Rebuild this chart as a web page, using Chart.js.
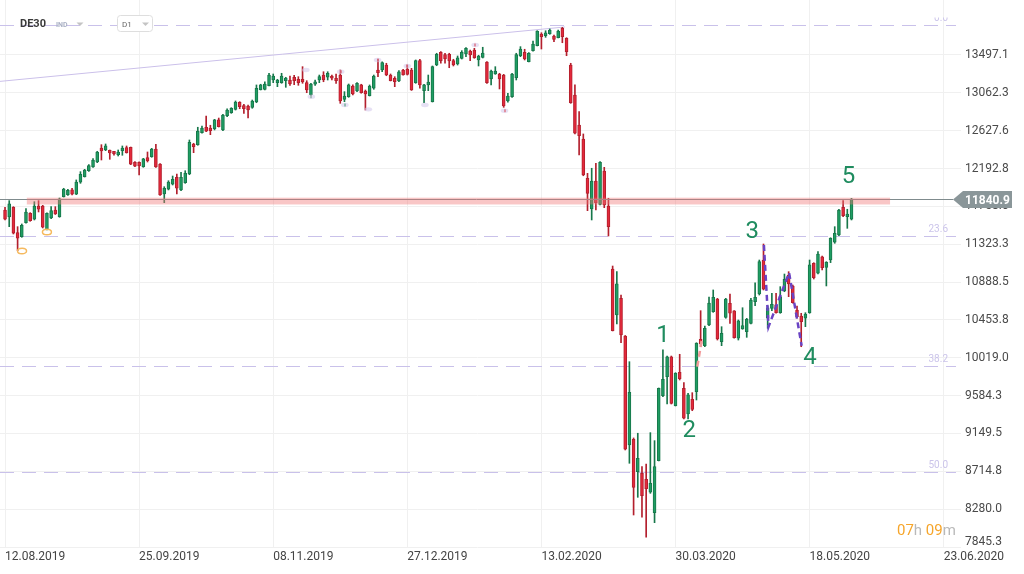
<!DOCTYPE html>
<html>
<head>
<meta charset="utf-8">
<script src="https://cdn.jsdelivr.net/npm/chart.js@4.4.0/dist/chart.umd.min.js"></script>
<style>
  html, body { margin: 0; padding: 0; background: #fff; }
  #wrap { position: relative; width: 1024px; height: 574px; }
</style>
</head>
<body>
<div id="wrap"><canvas id="chart"></canvas></div>
<script>
// x axis: one tick every 32 trading days
const dateLabels = ['12.08.2019', '25.09.2019', '08.11.2019', '27.12.2019', '13.02.2020', '30.03.2020', '18.05.2020', '23.06.2020'];
const yTickLabels = ['7845.3', '8280.0', '8714.8', '9149.5', '9584.3', '10019.0', '10453.8', '10888.5', '11323.3', '11758.0', '12192.8', '12627.6', '13062.3', '13497.1'];

// daily candles DE30
const opens = [11717,11636,11748,11456,11410,11571,11679,11610,11763,11763,11495,11625,11717,11640,11869,11892,11947,11897,12035,12099,
  12168,12211,12268,12429,12406,12402,12391,12352,12398,12433,12437,12265,12265,12214,12318,12329,12417,12245,11900,11955,
  12012,12092,11947,12030,12130,12475,12467,12605,12667,12659,12651,12751,12636,12800,12834,12873,12954,12915,12911,12896,
  12957,13099,13103,13145,13210,13179,13179,13202,13210,13241,13218,13218,13179,13041,13161,13210,13267,13241,13256,13230,
  13267,12988,13018,13141,13084,13153,13084,13030,13115,13325,13325,13382,13267,13230,13198,13325,13336,13325,13179,13432,
  13087,13153,12961,13382,13528,13501,13505,13432,13394,13459,13509,13543,13555,13440,13470,13417,13222,13279,13279,13267,
  12969,13018,13236,13489,13528,13420,13547,13604,13738,13719,13742,13715,13696,13804,13689,13382,13038,12693,12532,12081,
  11728,12050,11782,12165,11763,11039,10511,10702,10269,9017,9083,8711,8692,8623,8474,8239,8837,9584,9802,10031,
  9469,9852,9669,9373,9542,9630,10231,10158,10396,10548,10694,10204,10484,10645,10557,10243,10350,10319,10415,10663,
  10752,11142,10473,10587,10626,10537,10786,10970,10844,10568,10499,10473,10537,11104,10990,11180,11058,11142,11346,11430,
  11748,11640,11610];
const highs = [11748,11824,11755,11525,11556,11732,11686,11812,11824,11770,11685,11755,11755,11854,11966,11955,11966,12062,12157,12184,
  12237,12306,12391,12467,12475,12406,12391,12406,12452,12452,12440,12272,12270,12310,12383,12425,12471,12250,11984,12053,
  12107,12130,12150,12168,12521,12483,12667,12682,12796,12690,12758,12773,12816,12880,12892,12969,12961,12931,12923,12980,
  13153,13161,13190,13287,13279,13218,13287,13241,13256,13264,13248,13363,13202,13172,13210,13267,13305,13305,13267,13279,
  13325,13076,13164,13153,13179,13161,13095,13153,13267,13448,13420,13402,13279,13248,13317,13333,13382,13344,13440,13448,
  13161,13267,13371,13517,13535,13517,13517,13448,13486,13547,13581,13555,13574,13494,13586,13422,13325,13363,13287,13275,
  13057,13287,13517,13593,13563,13524,13658,13776,13753,13776,13796,13727,13784,13815,13696,13402,13153,12846,12590,12138,
  12196,12253,12272,12207,11851,11073,11008,10740,10275,9974,9098,9152,8768,8799,9159,9067,9672,10109,10039,10039,
  9848,10059,9733,9611,9618,10192,10560,10384,10717,10798,10702,10376,10702,10752,10562,10453,10594,10472,10702,10881,
  11142,11326,10614,10760,10760,10836,10981,11008,10855,10614,10530,10537,11142,11111,11238,11188,11123,11398,11525,11725,
  11824,11725,11850];
const lows = [11602,11525,11441,11249,11403,11564,11587,11602,11694,11510,11487,11617,11665,11633,11865,11885,11889,11893,12023,12095,
  12161,12207,12260,12291,12398,12299,12345,12337,12345,12370,12237,12215,12119,12207,12268,12322,12205,11885,11801,11947,
  12004,11900,11938,12023,12122,12375,12460,12598,12617,12582,12636,12670,12628,12788,12827,12865,12880,12827,12773,12885,
  12949,13095,13095,13141,13179,13133,13172,13126,13149,13156,13149,13172,13064,13034,13149,13179,13190,13210,13210,13172,
  12942,12961,13011,13038,13076,13058,12865,13026,13103,13248,13305,13259,13199,13133,13190,13264,13267,13090,13172,13115,
  12949,13087,12957,13374,13402,13402,13351,13371,13382,13451,13478,13432,13459,13371,13463,13172,13153,13275,13107,12896,
  12954,13011,13210,13478,13440,13417,13540,13601,13566,13700,13735,13650,13692,13638,13489,12942,12590,12349,12110,11709,
  11602,11717,11774,11743,11418,10327,10407,10192,8960,8807,8213,8416,8187,7957,8462,8125,8834,9572,9488,9488,
  9465,9764,9316,9316,9411,9534,10146,10146,10389,10541,10223,10158,10473,10415,10243,10223,10346,10254,10407,10617,
  10740,10798,10358,10560,10530,10530,10778,10721,10645,10473,10146,10376,10530,10924,10981,11027,10844,11112,11334,11422,
  11640,11506,11602];
const closes = [11610,11786,11449,11392,11541,11694,11594,11763,11725,11518,11679,11709,11671,11846,11958,11943,11897,12038,12127,12176,
  12226,12291,12383,12394,12455,12371,12360,12383,12429,12375,12242,12219,12222,12303,12283,12417,12211,11889,11966,12038,
  12069,11966,12092,12138,12494,12444,12624,12659,12621,12628,12751,12674,12808,12865,12885,12957,12903,12880,12865,12969,
  13115,13153,13164,13267,13256,13210,13256,13233,13164,13202,13179,13187,13095,13164,13190,13248,13210,13287,13230,13202,
  12969,13026,13153,13049,13172,13064,13049,13141,13256,13294,13409,13267,13202,13190,13305,13267,13275,13095,13432,13153,
  13153,13187,13363,13505,13432,13451,13428,13382,13466,13528,13574,13497,13466,13486,13520,13179,13313,13313,13222,12911,
  13026,13279,13501,13566,13451,13517,13623,13773,13707,13753,13784,13677,13773,13707,13535,12949,12598,12570,12119,11908,
  12050,11797,12265,11774,11525,10330,10867,10281,8968,9623,8531,8864,8435,8515,8577,8768,9669,9772,10031,9496,
  9841,9779,9324,9592,9427,10185,10177,10358,10648,10714,10235,10300,10694,10530,10250,10442,10388,10461,10683,10714,
  11123,10806,10594,10633,10537,10721,10920,10867,10652,10491,10434,10522,11088,10939,11211,11054,11116,11391,11449,11717,
  11651,11671,11840.9];

const lastPrice = 11840.9;
const fibLevels = [13842, 11418, 9919, 8707];
const fibNames = ['0.0', '23.6', '38.2', '50.0'];
const zoneBars = [5.2, 211.2];
const zonePrices = [11858, 11780];
const trendBars = [-1.2, 133.6];
const trendPrices = [13194, 13819];
const waveNames = ['1', '2', '3', '4', '5'];
const waveBars = [157.0, 163.3, 178.3, 192.1, 201.3];
const wavePrices = [10300, 9209, 11493, 10042, 12130];
const wavePathBars = [181.1, 182.2, 187.1, 190.1];
const wavePathPrices = [11315, 10376, 10996, 10158];
const pinkPathBars = [165.2, 166.3];
const pinkPathPrices = [9917, 10232];
const markerBars = [73.1, 71.8, 80.1, 81.1, 86.7, 88.9, 96, 100.2, 112.2, 119.2];
const markerPrices = [13018, 13325, 13305, 12923, 12873, 13440, 13371, 12923, 13612, 12857];
const ringBars = [4.06, 10.0];
const ringPrices = [11246, 11464];

const UP = '#1f9d63', UP_EDGE = '#17774a';
const DOWN = '#e3293b', DOWN_EDGE = '#b31f2d';
const markerTickColors = ['#6f9c86', '', '#d9434f', '#3c9a6c', '', '#d9434f', '#d9434f', '', '#d9434f', '#d9434f'];
const isUp = opens.map((o, i) => closes[i] >= o);

const bodies = opens.map((o, i) => ({ x: i, y: [o, closes[i]] }));
const wicks = lows.map((l, i) => ({ x: i, y: [l, highs[i]] }));

const overlay = {
    id: 'overlay',
    beforeDatasetsDraw(chart) {
        const { ctx, chartArea: a, scales: { x, y } } = chart;
        ctx.save();
        // fibonacci levels
        ctx.strokeStyle = '#c9c1ea';
        ctx.lineWidth = 1;
        ctx.setLineDash([14, 8]);
        fibLevels.forEach(v => {
            const py = Math.round(y.getPixelForValue(v)) + 0.5;
            ctx.beginPath();
            ctx.moveTo(a.left, py);
            ctx.lineTo(a.right + 1, py);
            ctx.stroke();
        });
        ctx.setLineDash([]);
        // trend line
        ctx.strokeStyle = '#cbc0ea';
        ctx.beginPath();
        ctx.moveTo(x.getPixelForValue(trendBars[0]), y.getPixelForValue(trendPrices[0]));
        ctx.lineTo(x.getPixelForValue(trendBars[1]), y.getPixelForValue(trendPrices[1]));
        ctx.stroke();
        ctx.restore();
    },
    afterDatasetsDraw(chart) {
        const { ctx, chartArea: a, scales: { x, y } } = chart;
        ctx.save();

        // last price line and zone
        const py = Math.round(y.getPixelForValue(lastPrice)) + 0.5;
        ctx.strokeStyle = '#7f8b8d';
        ctx.lineWidth = 1;
        ctx.beginPath();
        ctx.moveTo(a.left, py);
        ctx.lineTo(a.right - 2, py);
        ctx.stroke();
        const zx0 = x.getPixelForValue(zoneBars[0]), zx1 = x.getPixelForValue(zoneBars[1]);
        const zy0 = y.getPixelForValue(zonePrices[0]), zy1 = y.getPixelForValue(zonePrices[1]);
        ctx.fillStyle = 'rgba(240, 120, 120, 0.42)';
        ctx.fillRect(zx0, zy0, zx1 - zx0, zy1 - zy0);

        // elliott wave path
        ctx.strokeStyle = '#6a43c4';
        ctx.lineWidth = 2.5;
        ctx.setLineDash([6, 4]);
        ctx.beginPath();
        wavePathBars.forEach((b, k) => {
            const px = x.getPixelForValue(b), pv = y.getPixelForValue(wavePathPrices[k]);
            if (k === 0) ctx.moveTo(px, pv); else ctx.lineTo(px, pv);
        });
        ctx.stroke();
        ctx.strokeStyle = '#f19a9a';
        ctx.beginPath();
        ctx.moveTo(x.getPixelForValue(pinkPathBars[0]), y.getPixelForValue(pinkPathPrices[0]));
        ctx.lineTo(x.getPixelForValue(pinkPathBars[1]), y.getPixelForValue(pinkPathPrices[1]));
        ctx.stroke();
        ctx.setLineDash([]);

        // event markers
        markerBars.forEach((b, k) => {
            const mx = x.getPixelForValue(b), my = y.getPixelForValue(markerPrices[k]);
            ctx.fillStyle = 'rgba(214, 204, 236, 0.6)';
            ctx.beginPath();
            ctx.ellipse(mx, my, 3.8, 2.2, 0, 0, Math.PI * 2);
            ctx.fill();
            if (markerTickColors[k]) {
                ctx.fillStyle = markerTickColors[k];
                ctx.fillRect(Math.round(mx) - 0.5, my - 1.5, 1, 3);
            }
        });
        ctx.strokeStyle = '#f5b95e';
        ctx.lineWidth = 1.5;
        ringBars.forEach((b, k) => {
            ctx.beginPath();
            ctx.ellipse(x.getPixelForValue(b), y.getPixelForValue(ringPrices[k]), 4.5, 2.8, 0, 0, Math.PI * 2);
            ctx.stroke();
        });

        // wave numbers
        ctx.fillStyle = '#1f8c5f';
        ctx.font = '24px Roboto';
        ctx.textAlign = 'center';
        ctx.textBaseline = 'alphabetic';
        waveNames.forEach((t, k) => {
            ctx.fillText(t, x.getPixelForValue(waveBars[k]), y.getPixelForValue(wavePrices[k]) + 8.5);
        });

        // fib labels
        ctx.font = '10px Roboto';
        ctx.fillStyle = '#cbc4ea';
        ctx.textAlign = 'right';
        ctx.save();
        ctx.beginPath();
        ctx.rect(0, 17.5, chart.width, chart.height);
        ctx.clip();
        fibLevels.forEach((v, k) => {
            ctx.fillText(fibNames[k], a.right - 7, y.getPixelForValue(v) - 4);
        });
        ctx.restore();

        // price label
        const lx = a.right - 2;
        ctx.fillStyle = '#8a9699';
        ctx.beginPath();
        ctx.moveTo(lx, py);
        ctx.lineTo(lx + 10, py - 8.5);
        ctx.lineTo(lx + 59, py - 8.5);
        ctx.lineTo(lx + 59, py + 8.5);
        ctx.lineTo(lx + 10, py + 8.5);
        ctx.closePath();
        ctx.fill();
        ctx.fillStyle = '#ffffff';
        ctx.font = 'bold 12px Roboto';
        ctx.textAlign = 'left';
        ctx.textBaseline = 'middle';
        ctx.fillText(lastPrice.toFixed(1), lx + 12, py + 1);

        // lowest axis label sits a little higher
        ctx.fillStyle = '#4a4a4a';
        ctx.font = '12px Roboto';
        ctx.fillText(yTickLabels[0], a.right + 10, y.getPixelForValue(+yTickLabels[0]) - 5);

        // header
        ctx.textBaseline = 'alphabetic';
        ctx.fillStyle = '#3a3a3a';
        ctx.font = 'bold 11px Roboto';
        ctx.fillText('DE30', 20, 27);
        ctx.fillStyle = '#a9b0c4';
        ctx.font = 'bold 7px Roboto';
        ctx.fillText('IND', 56, 27);
        const tri = (cx, cy) => {
            ctx.beginPath();
            ctx.moveTo(cx - 3.5, cy - 1.5);
            ctx.lineTo(cx + 3.5, cy - 1.5);
            ctx.lineTo(cx, cy + 2);
            ctx.closePath();
            ctx.fill();
        };
        ctx.fillStyle = '#c4c4c4';
        tri(80, 24);
        ctx.fillStyle = '#ffffff';
        ctx.strokeStyle = '#dedede';
        ctx.lineWidth = 1;
        ctx.beginPath();
        ctx.roundRect(117.5, 15.5, 35, 16, 3);
        ctx.fill();
        ctx.stroke();
        ctx.fillStyle = '#666666';
        ctx.font = '8px Roboto';
        ctx.fillText('D1', 122, 27);
        ctx.fillStyle = '#c4c4c4';
        tri(145.5, 24);

        // countdown
        ctx.font = '15px Roboto';
        let cx = 897;
        const parts = [['07', '#f6a52a'], ['h ', '#b9b9b9'], ['09', '#f6a52a'], ['m', '#b9b9b9']];
        parts.forEach(([t, c]) => {
            ctx.fillStyle = c;
            ctx.fillText(t, cx, 535);
            cx += ctx.measureText(t).width;
        });
        ctx.restore();
    }
};

new Chart(document.getElementById('chart'), {
    type: 'bar',
    data: {
        datasets: [
            {
                label: 'body',
                data: bodies,
                order: 0,
                grouped: false,
                barThickness: 3,
                borderWidth: 1,
                borderSkipped: false,
                backgroundColor: isUp.map(u => u ? UP : DOWN),
                borderColor: isUp.map(u => u ? UP_EDGE : DOWN_EDGE)
            },
            {
                label: 'wick',
                data: wicks,
                order: 1,
                grouped: false,
                barThickness: 1,
                borderWidth: 0,
                backgroundColor: isUp.map(u => u ? UP_EDGE : DOWN_EDGE)
            }
        ]
    },
    options: {
        responsive: true,
        maintainAspectRatio: false,
        animation: false,
        layout: { padding: 0 },
        plugins: {
            legend: { display: false },
            tooltip: { enabled: false }
        },
        scales: {
            x: {
                type: 'linear',
                min: -1.2,
                max: 226.7,
                offset: false,
                afterBuildTicks: scale => { scale.ticks = dateLabels.map((d, k) => ({ value: k * 32 })); },
                afterFit: scale => { scale.height = 27; scale.paddingLeft = 0; scale.paddingRight = 0; },
                grid: { color: '#f0f0f0', drawTicks: false, offset: false },
                border: { display: false },
                ticks: {
                    autoSkip: false,
                    maxRotation: 0,
                    align: 'start',
                    padding: 3,
                    color: '#444444',
                    font: { family: 'Roboto', size: 12 },
                    callback: (v, idx) => dateLabels[idx]
                }
            },
            y: {
                position: 'right',
                min: 7845.3,
                max: 14128.9,
                afterBuildTicks: scale => { scale.ticks = yTickLabels.map(t => ({ value: +t })); },
                afterFit: scale => { scale.width = 69; scale.paddingTop = 0; scale.paddingBottom = 0; },
                grid: { color: '#f0f0f0', tickLength: 6 },
                border: { display: false },
                ticks: {
                    padding: 4,
                    color: '#4a4a4a',
                    font: { family: 'Roboto', size: 12 },
                    callback: (v, idx) => idx === 0 ? '' : yTickLabels[idx]
                }
            }
        }
    },
    plugins: [overlay]
});
</script>
</body>
</html>
